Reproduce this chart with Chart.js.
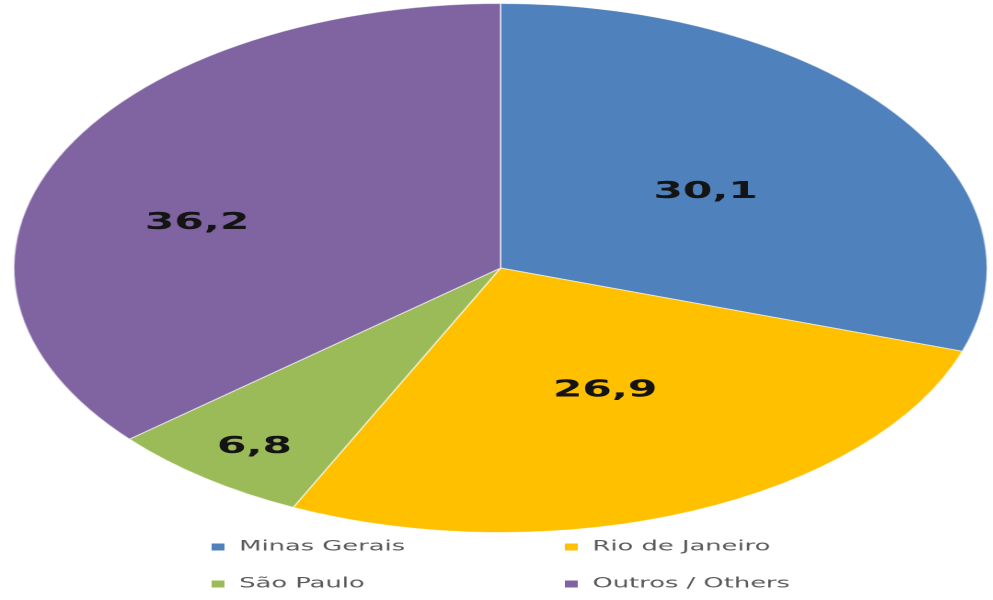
<!DOCTYPE html>
<html>
<head>
<meta charset="utf-8">
<script src="https://cdn.jsdelivr.net/npm/chart.js@4/dist/chart.umd.min.js"></script>
<style>
  html, body { margin: 0; padding: 0; background: #fff; overflow: hidden; }
  /* the original picture is stretched sideways, so the chart is drawn narrow and widened */
  .wrap { width: 540px; height: 600px; transform: scaleX(1.84); transform-origin: 0 0; }
</style>
</head>
<body>
<div class="wrap">
  <canvas id="pie" width="540" height="600"></canvas>
</div>
<script>
const categories = ['Minas Gerais', 'Rio de Janeiro', 'São Paulo', 'Outros / Others'];
const values = [30.1, 26.9, 6.8, 36.2];
const colors = ['#4f81bd', '#ffc000', '#9bbb59', '#8064a2'];

// where each value label sits: fraction of the radius, shift of angle in degrees
const labelSpots = [
  { r: 0.51, da: 1.6 },
  { r: 0.51, da: -1.7 },
  { r: 0.845, da: -0.7 },
  { r: 0.646, da: -9.6 },
];

const sliceLabels = {
  id: 'sliceLabels',
  afterDatasetsDraw(chart) {
    const ctx = chart.ctx;
    const meta = chart.getDatasetMeta(0);
    ctx.save();
    ctx.font = 'bold 23px "DejaVu Sans"';
    ctx.fillStyle = '#141414';
    ctx.textAlign = 'center';
    ctx.textBaseline = 'middle';
    meta.data.forEach((arc, i) => {
      const p = arc.getProps(['x', 'y', 'startAngle', 'endAngle', 'outerRadius'], true);
      const spot = labelSpots[i];
      const a = (p.startAngle + p.endAngle) / 2 + spot.da * Math.PI / 180;
      const r = p.outerRadius * spot.r;
      const txt = chart.data.datasets[0].data[i].toFixed(1).replace('.', ',');
      ctx.fillText(txt, p.x + Math.cos(a) * r, p.y + Math.sin(a) * r);
    });
    ctx.restore();
  }
};

// two column legend under the pie
const gridLegend = {
  id: 'gridLegend',
  afterDraw(chart) {
    const ctx = chart.ctx;
    const cols = [115, 307];
    const rows = [547, 584];
    ctx.save();
    ctx.font = '14px "DejaVu Sans"';
    ctx.textBaseline = 'middle';
    chart.data.labels.forEach((lab, i) => {
      const x = cols[i % 2];
      const y = rows[Math.floor(i / 2)];
      ctx.fillStyle = chart.data.datasets[0].backgroundColor[i];
      ctx.fillRect(x, y - 3.5, 7, 7);
      ctx.fillStyle = '#595959';
      ctx.fillText(lab, x + 15, y);
    });
    ctx.restore();
  }
};

new Chart(document.getElementById('pie').getContext('2d'), {
  type: 'pie',
  data: {
    labels: categories,
    datasets: [{
      data: values,
      backgroundColor: colors,
      borderColor: 'rgba(255,255,255,0.55)',
      borderWidth: 1,
    }],
  },
  options: {
    responsive: false,
    animation: false,
    devicePixelRatio: 2,
    layout: { padding: { left: 7, right: 3, top: 3, bottom: 67 } },
    plugins: {
      legend: { display: false },
      tooltip: { enabled: false },
    },
  },
  plugins: [sliceLabels, gridLegend],
});
</script>
</body>
</html>
